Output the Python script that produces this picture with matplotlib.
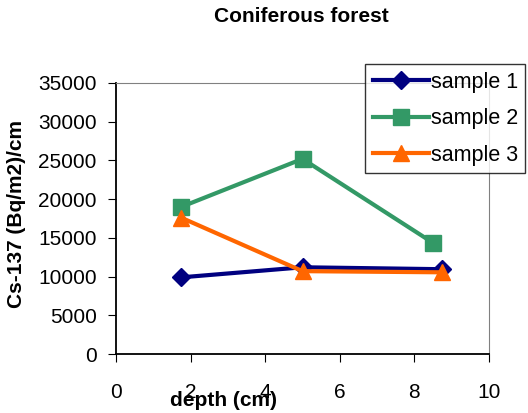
import matplotlib.pyplot as plt

plt.rcParams['font.family'] = ['Liberation Sans', 'DejaVu Sans']

# depth (cm) and Cs-137 values per sample
depth_1 = [1.75, 5.0, 8.75]
sample_1 = [9900, 11200, 10950]
depth_2 = [1.75, 5.0, 8.5]
sample_2 = [19000, 25200, 14350]
depth_3 = [1.75, 5.0, 8.75]
sample_3 = [17600, 10700, 10550]

fig = plt.figure(figsize=(5.28, 4.13), dpi=100)
ax = fig.add_axes([116 / 528, 1 - 354 / 413, 373 / 528, 271 / 413])

ax.plot(depth_1, sample_1, color='#000080', lw=3, marker='D', ms=9,
        label='sample 1', zorder=3)
ax.plot(depth_2, sample_2, color='#339966', lw=3, marker='s', ms=11,
        label='sample 2', zorder=2)
ax.plot(depth_3, sample_3, color='#FF6600', lw=3, marker='^', ms=12,
        label='sample 3', zorder=4)

ax.set_xlim(0, 10)
ax.set_ylim(0, 35000)
ax.set_xticks(range(0, 11, 2))
ax.set_yticks(range(0, 35001, 5000))
ax.tick_params(axis='x', direction='out', length=6, pad=15, labelsize=15)
ax.tick_params(axis='y', direction='out', length=6, pad=8, labelsize=15)

ax.spines['left'].set_color('black')
ax.spines['bottom'].set_color('black')
ax.spines['left'].set_linewidth(1.3)
ax.spines['bottom'].set_linewidth(1.3)
ax.spines['top'].set_color('#808080')
ax.spines['right'].set_color('#808080')

fig.text(301 / 528, 1 - 17 / 413, 'Coniferous forest', ha='center', va='center',
         fontsize=15, fontweight='bold')
fig.text(224 / 528, 1 - 400 / 413, 'depth (cm)', ha='center', va='center',
         fontsize=15, fontweight='bold')
fig.text(17 / 528, 1 - 214 / 413, 'Cs-137 (Bq/m2)/cm', ha='center', va='center',
         rotation=90, fontsize=15, fontweight='bold')

leg = ax.legend(loc='upper left', bbox_to_anchor=(365 / 528, 1 - 64 / 413),
                bbox_transform=fig.transFigure, borderaxespad=0, fontsize=15.5,
                frameon=True, fancybox=False, edgecolor='black',
                handlelength=2.6, handletextpad=0.1, labelspacing=0.72,
                borderpad=0.35)
leg.get_frame().set_linewidth(1)

plt.savefig('out.png', dpi=100)
